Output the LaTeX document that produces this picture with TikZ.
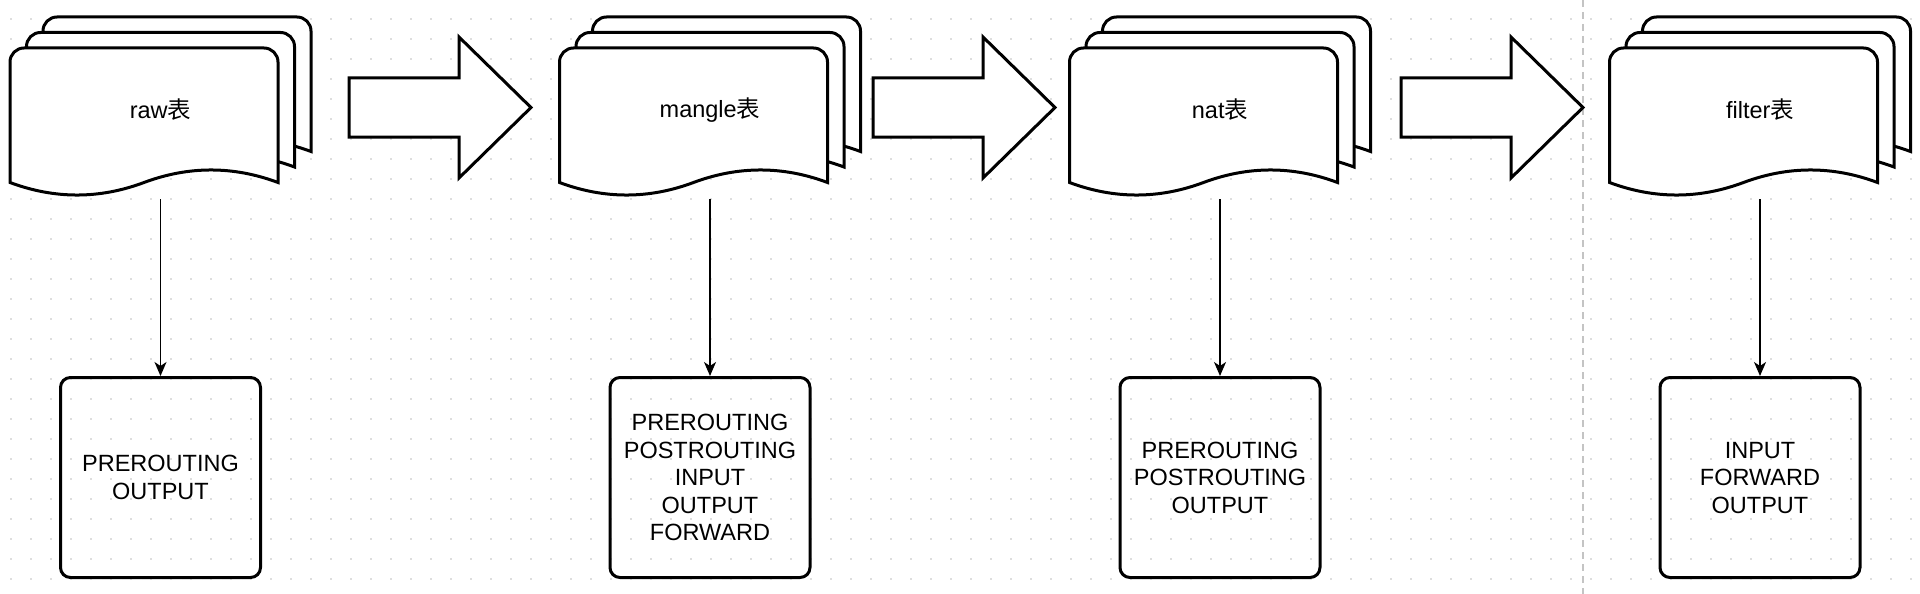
\documentclass[tikz,border=0pt]{standalone}
\usepackage{fontspec}
\setmainfont{Liberation Sans}
\newfontfamily\cjk{Noto Sans CJK SC}
\usetikzlibrary{arrows.meta,positioning}
\definecolor{griddot}{HTML}{DEDEDE}
\definecolor{breakline}{HTML}{C4C4C4}
\tikzset{%
	page/.style     = {draw, fill=white, line width=3pt},
	flow/.style     = {draw, fill=white, line width=3pt, line join=miter},
	chains/.style   = {draw, rectangle, rounded corners=10pt, line width=3pt, minimum width=200pt, minimum height=200pt, text depth=0pt, align=center, font=\fontsize{23.5}{27.5}\selectfont},
	tablabel/.style = {font=\fontsize{23.5}{27.5}\selectfont},
	link/.style     = {line width=1.5pt, -{Stealth[length=14pt,width=12pt,inset=4pt]}},
}
% one page of a table stack, top left corner at (#1,#2)
\newcommand{\tabpage}[2]{%
	\draw[page, shift={(#1,#2)}] (0,134.5) -- (0,14) .. controls (0,6.3) and (6.3,0) .. (14,0)
		-- (254,0) .. controls (261.7,0) and (268,6.3) .. (268,14) -- (268,134.5)
		.. controls (223.3,117.8) and (178.7,117.8) .. (134,134.5)
		.. controls (89.3,151.2) and (44.7,151.2) .. (0,134.5) -- cycle;
}
% three pages, label and out point, centred on the scope origin
\newcommand{\tabstack}[2]{%
	\tabpage{-117.5}{17}
	\tabpage{-134}{32.5}
	\tabpage{-150.5}{48}
	\node[tablabel] (#1) at (0,110) {#2};
	\coordinate (#1-out) at (0,199);
}
% big hollow arrow, left end at x=#1
\newcommand{\flowarrow}[1]{%
	\draw[flow, shift={(#1,0)}] (0,78) -- (110,78) -- (110,37) -- (182,107.5) -- (110,178) -- (110,137) -- (0,137) -- cycle;
}

\begin{document}
\begin{tikzpicture}[x=1pt,y=-1pt]
	\useasboundingbox (0,0) rectangle (1920,594);
	\fill[white] (0,0) rectangle (1920,594);
	\foreach \i in {0,...,95}
		\foreach \j in {0,...,28}
			\fill[griddot] ({10+20*\i},{18+20*\j}) rectangle ++(2,2);  % grid
	\draw[breakline, line width=1.3pt, dash pattern=on 7pt off 5pt] (1583,0) -- (1583,594);  % page break
	
	\begin{scope}[shift={(160.5,0)}]
	\tabstack{raw}{raw{\cjk 表}}
	\node[chains] (raw-chains) at (0,477.5) {PREROUTING\\OUTPUT};
	\draw[link] (raw-out) -- (raw-chains);
	\end{scope}
	
	\begin{scope}[shift={(710,0)}]
	\tabstack{mangle}{mangle{\cjk 表}}
	\node[chains] (mangle-chains) at (0,477.5) {PREROUTING\\POSTROUTING\\INPUT\\OUTPUT\\FORWARD};
	\draw[link] (mangle-out) -- (mangle-chains);
	\end{scope}
	
	\begin{scope}[shift={(1220,0)}]
	\tabstack{nat}{nat{\cjk 表}}
	\node[chains] (nat-chains) at (0,477.5) {PREROUTING\\POSTROUTING\\OUTPUT};
	\draw[link] (nat-out) -- (nat-chains);
	\end{scope}
	
	\begin{scope}[shift={(1760,0)}]
	\tabstack{filter}{filter{\cjk 表}}
	\node[chains] (filter-chains) at (0,477.5) {INPUT\\FORWARD\\OUTPUT};
	\draw[link] (filter-out) -- (filter-chains);
	\end{scope}
	
	\flowarrow{349}
	\flowarrow{873}
	\flowarrow{1401}
\end{tikzpicture}
\end{document}
